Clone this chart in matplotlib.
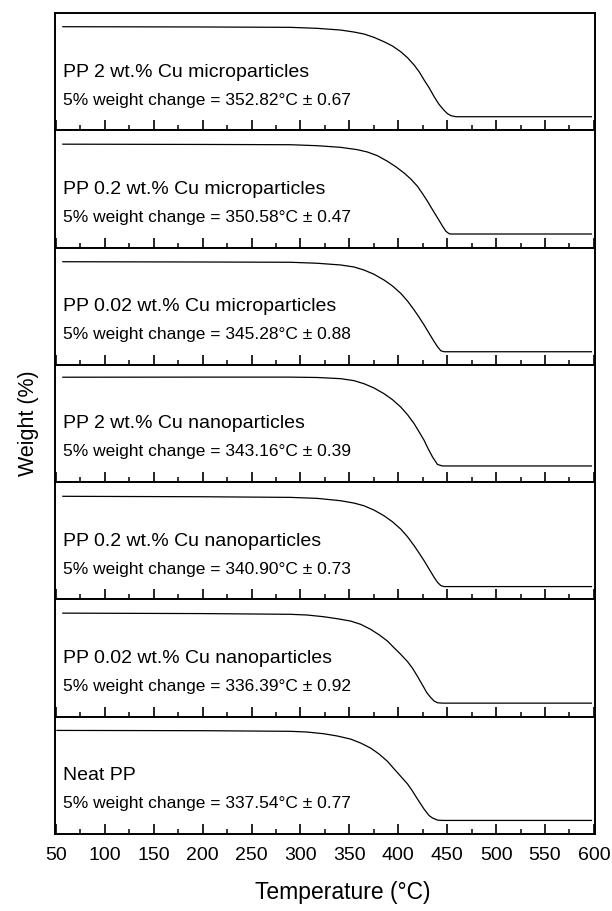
import matplotlib
matplotlib.use('Agg')
import matplotlib.pyplot as plt
from matplotlib.ticker import MultipleLocator

plt.rcParams['font.family'] = ['Liberation Sans', 'DejaVu Sans']

# sample names, top panel first
samples = ['PP 2 wt.% Cu microparticles',
           'PP 0.2 wt.% Cu microparticles',
           'PP 0.02 wt.% Cu microparticles',
           'PP 2 wt.% Cu nanoparticles',
           'PP 0.2 wt.% Cu nanoparticles',
           'PP 0.02 wt.% Cu nanoparticles',
           'Neat PP']
onset = ['352.82', '350.58', '345.28', '343.16', '340.90', '336.39', '337.54']
onset_err = ['0.67', '0.47', '0.88', '0.39', '0.73', '0.92', '0.77']

# TGA curves (temperature in C, weight in %)
t_micro2 = [57, 200, 289.7, 317.1, 341, 354.6, 364.9, 375.1, 385.4, 394, 402.5, 409.4, 416.2,
            421.3, 426.4, 431.5, 436.7, 441.6, 446.9, 450.4, 453.8, 458.9, 597.5]
w_micro2 = [100, 99.7, 99.3, 98.2, 96.3, 94.1, 91.9, 88.2, 83.3, 78.6, 72.2, 65.6, 57.4,
            50, 40.8, 32.2, 22.2, 13.8, 7.0, 3.3, 1.2, 0, 0]
t_micro02 = [57, 200, 289.7, 317.1, 341, 358.1, 368.4, 378.6, 388.9, 397.4, 405.9, 412.8, 419.6,
             424.8, 429.9, 435, 440.2, 445.3, 448.7, 452, 453.8, 597.5]
w_micro02 = [99.8, 99.5, 99.2, 98.1, 96.3, 93.7, 91.1, 87, 80.8, 74.8, 67.8, 61.1, 53,
             44.8, 36.3, 27, 17.8, 8.6, 3, 0.3, 0, 0]
t_micro002 = [57, 200, 289.7, 317.1, 341, 354.6, 364.9, 375.1, 385.4, 394, 402.5, 409.4, 416.2,
              421.3, 426.4, 431.5, 436.7, 440.1, 443.5, 446.9, 597.5]
w_micro002 = [99.5, 99.2, 98.9, 97.8, 95.9, 93.7, 90.3, 85.6, 79.2, 72.6, 64.4, 55.9, 45.9,
              37.8, 29.2, 20, 10.7, 5.1, 0.6, -0.5, -0.5]
t_nano2 = [57, 200, 289.7, 317.1, 341, 354.6, 364.9, 375.1, 385.4, 394, 402.5, 409.4, 416.2,
           421.3, 426.4, 430.5, 435, 438.4, 440.1, 445.3, 597.5]
w_nano2 = [101.5, 101.6, 101.6, 101.2, 99.9, 97.7, 94.3, 89.6, 83.2, 76.6, 68.4, 59.9, 49.9,
           40.7, 31.4, 22.1, 12.9, 7.3, 4.5, 2.9, 2.9]
t_nano02 = [57, 200, 289.7, 317.1, 341, 354.6, 364.9, 375.1, 385.4, 394, 402.5, 409.4, 416.2,
            421.3, 426.4, 431.5, 436.7, 440.1, 443.5, 446.9, 597.5]
w_nano02 = [99.5, 99, 98.3, 97.2, 94.6, 92, 89, 84.2, 77.9, 71.2, 63.1, 54.6, 44.6,
            36.4, 27.9, 18.7, 9.4, 3.9, 0.3, -0.8, -0.8]
t_nano002 = [57, 200, 289.7, 306.8, 323.8, 337.6, 351.2, 361.5, 371.7, 380.3, 388.9, 395.6, 402.5,
             409.4, 414.5, 419.6, 424.8, 429.2, 433.3, 436.7, 440.2, 445.3, 597.5]
w_nano002 = [100, 99.5, 98.7, 97.9, 96, 93.8, 91.2, 87.6, 82, 76, 69, 61.6, 54.2,
             46.2, 38.8, 29.8, 20, 11.6, 6, 2.3, 0.4, 0, 0]
t_neat = [51, 200, 289.7, 306.8, 323.8, 337.6, 351.2, 361.5, 371.7, 380.3, 388.9, 395.6, 402.5,
          409.4, 414.5, 419.6, 426.4, 431.5, 435, 440.2, 445.3, 597.5]
w_neat = [100, 99.7, 99, 98.2, 96.3, 93.8, 90.4, 86, 80.4, 73.8, 65.7, 57.4, 49,
          40.6, 32.6, 23.8, 12.5, 5.4, 2.7, 0.3, 0, 0]

temps = [t_micro2, t_micro02, t_micro002, t_nano2, t_nano02, t_nano002, t_neat]
weights = [w_micro2, w_micro02, w_micro002, w_nano2, w_nano02, w_nano002, w_neat]

fig, axes = plt.subplots(7, 1, sharex=True, figsize=(6.12, 9.11), dpi=100)
fig.subplots_adjust(left=0.0899, right=0.972, top=0.9857, bottom=0.0845, hspace=0)

for i, ax in enumerate(axes):
    ax.plot(temps[i], weights[i], color='black', lw=0.9)
    ax.set_xlim(49, 601)
    ax.set_ylim(-15.1, 115.2)
    ax.set_yticks([])
    ax.xaxis.set_major_locator(MultipleLocator(50))
    ax.xaxis.set_minor_locator(MultipleLocator(25))
    ax.tick_params(axis='x', which='major', direction='in', length=7, width=1.2,
                   top=False, labelsize=14, pad=9)
    ax.tick_params(axis='x', which='minor', direction='in', length=3.5, width=1.1, top=False)
    if i < 6:
        ax.tick_params(axis='x', labelbottom=False)
    for sp in ax.spines.values():
        sp.set_linewidth(1.4)
    ax.text(0.015, 0.497, samples[i], transform=ax.transAxes, fontsize=14, va='center')
    ax.text(0.015, 0.258, '5% weight change = ' + onset[i] + '°C ± ' + onset_err[i],
            transform=ax.transAxes, fontsize=12.5, va='center')

fig.text(0.047, 0.535, 'Weight (%)', rotation=90, fontsize=15.5, ha='center', va='center')
fig.text(0.5605, 0.0198, 'Temperature (°C)', fontsize=16.5, ha='center', va='center')

plt.savefig('out.png', dpi=100)
